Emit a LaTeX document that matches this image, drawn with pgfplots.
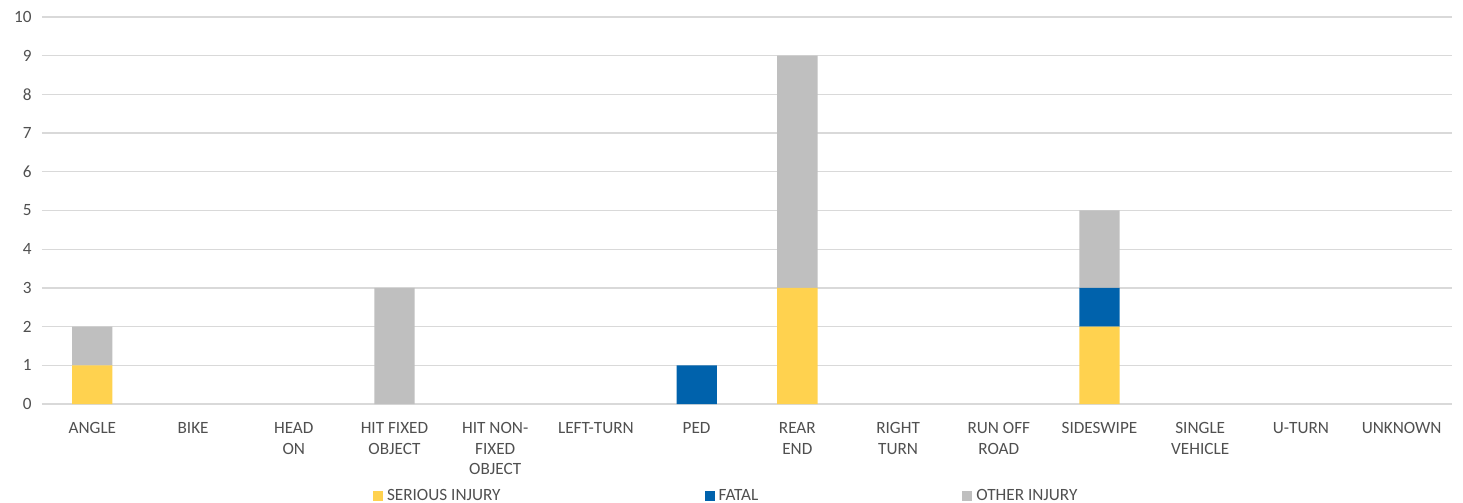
\documentclass[border=0pt]{standalone}
\usepackage{pgfplots}
\pgfplotsset{compat=1.18}
\usepackage{fontspec}
\setmainfont{Carlito}
\definecolor{cSer}{HTML}{FFD24F}
\definecolor{cFat}{HTML}{0062AC}
\definecolor{cOth}{HTML}{BFBFBF}
\definecolor{cGrid}{HTML}{D9D9D9}
\definecolor{cTxt}{HTML}{505050}
\begin{document}
\begin{tikzpicture}[x=1bp,y=1bp]
\begin{axis}[
  at={(0bp,0bp)}, anchor=south west,
  scale only axis,
  width=1410bp, height=387bp,
  ybar stacked,
  bar width=0.4,
  xmin=-0.5, xmax=13.5,
  ymin=0, ymax=10,
  ytick={0,1,...,10},
  xtick={0,1,...,13},
  xticklabels={ANGLE,BIKE,{HEAD\\ON},{HIT FIXED\\OBJECT},{HIT NON-\\FIXED\\OBJECT},LEFT-TURN,PED,{REAR\\END},{RIGHT\\TURN},{RUN OFF\\ROAD},SIDESWIPE,{SINGLE\\VEHICLE},U-TURN,UNKNOWN},
  axis line style={draw=none},
  major tick length=0pt,
  ymajorgrids,
  grid style={cGrid, line width=1.3bp},
  /pgf/number format/assume math mode=true,
  tick label style={font=\fontsize{17.2bp}{20.5bp}\selectfont, text=cTxt},
  x tick label style={align=center, anchor=north, yshift=-15bp},
  y tick label style={anchor=east, xshift=-7bp},
  legend style={draw=none, fill=none, inner sep=0pt, outer sep=0pt,
    at={(331bp,-92bp)}, anchor=west,
    font=\fontsize{17.2bp}{20.5bp}\selectfont, text=cTxt,
    nodes={inner sep=0pt, outer sep=0pt},
    /tikz/every odd column/.append style={column sep=4bp},
    /tikz/every even column/.append style={column sep=204bp}},
  legend columns=3,
  legend cell align=left,
]
\addplot[fill=cSer, draw=none, legend image code/.code={\fill[cSer] (0bp,-5bp) rectangle (10bp,5bp);}] coordinates {
 (0,1) (1,0) (2,0) (3,0) (4,0) (5,0) (6,0) (7,3) (8,0) (9,0) (10,2) (11,0) (12,0) (13,0)};
\addplot[fill=cFat, draw=none, legend image code/.code={\fill[cFat] (0bp,-5bp) rectangle (10bp,5bp);}] coordinates {
 (0,0) (1,0) (2,0) (3,0) (4,0) (5,0) (6,1) (7,0) (8,0) (9,0) (10,1) (11,0) (12,0) (13,0)};
\addplot[fill=cOth, draw=none, legend image code/.code={\fill[cOth] (0bp,-5bp) rectangle (10bp,5bp);}] coordinates {
 (0,1) (1,0) (2,0) (3,3) (4,0) (5,0) (6,0) (7,6) (8,0) (9,0) (10,2) (11,0) (12,0) (13,0)};
\legend{SERIOUS INJURY,FATAL,OTHER INJURY}
\end{axis}
\pgfresetboundingbox
\useasboundingbox (-42bp,-99bp) rectangle (1421bp,404bp);
\end{tikzpicture}
\end{document}
